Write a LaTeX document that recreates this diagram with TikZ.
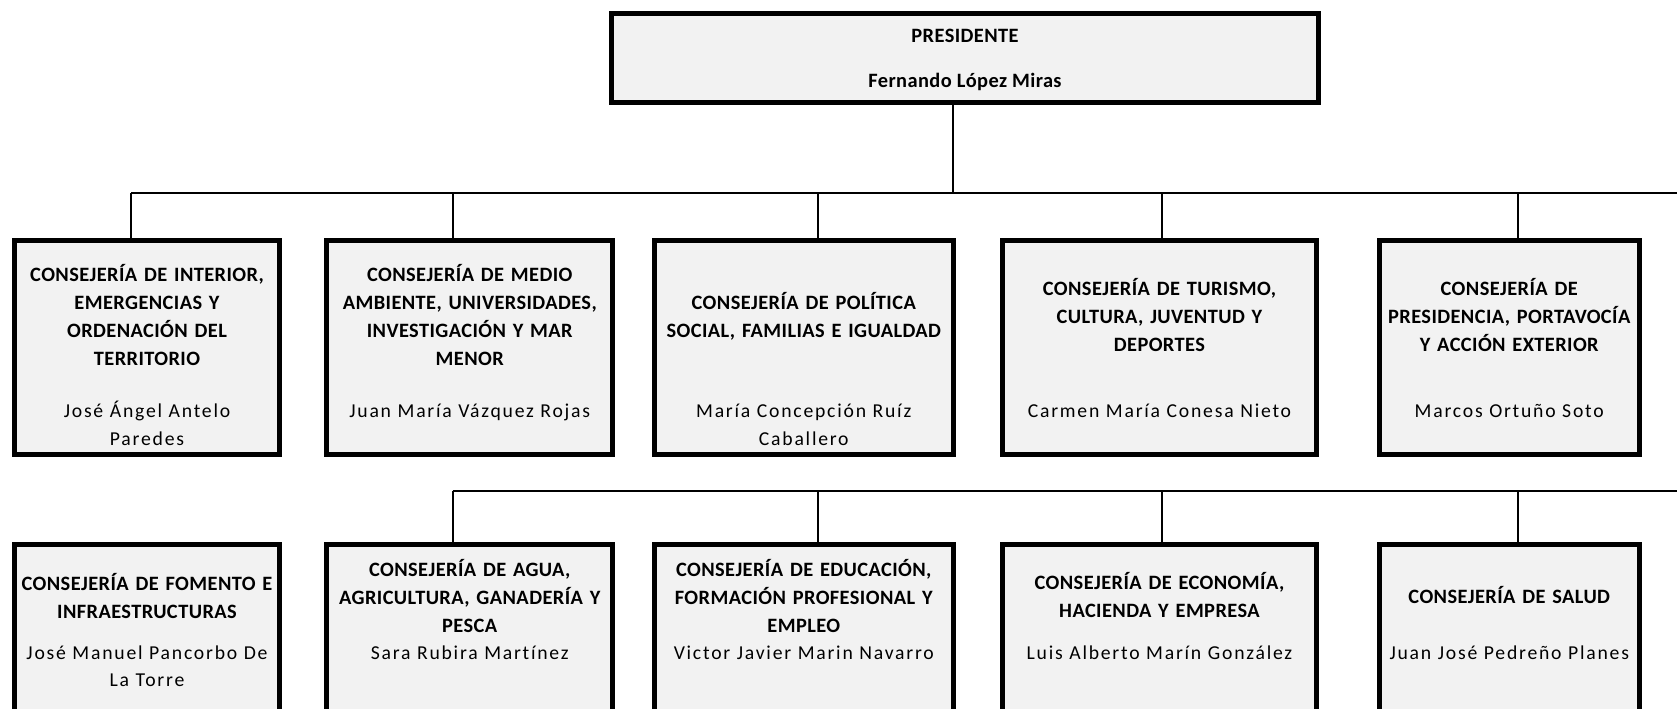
\documentclass[tikz,border=0pt]{standalone}
\usepackage{fontspec}
\setmainfont{Carlito}
\newfontfamily\namefont[LetterSpace=9,Ligatures=NoCommon]{Carlito}
\newfontfamily\ttlfont[LetterSpace=2,Ligatures=NoCommon]{Carlito}
\definecolor{boxgray}{HTML}{F2F2F2}
\begin{document}
\begin{tikzpicture}[x=0.01cm,y=-0.01cm,
  box/.style={draw=black, line width=0.05cm, fill=boxgray, rectangle, inner sep=0pt, outer sep=0pt},
  conn/.style={draw=black, line width=0.02cm},
  ttl/.style={font=\ttlfont\bfseries\fontsize{5.8pt}{7.97pt}\selectfont, align=center, text width=4cm, anchor=base, inner sep=0pt},
  nm/.style={font=\namefont\fontsize{5.6pt}{7.88pt}\selectfont, align=center, text width=4cm, anchor=base, inner sep=0pt},
  pt/.style={font=\ttlfont\bfseries\fontsize{5.8pt}{7pt}\selectfont, anchor=base, inner sep=0pt}]
\useasboundingbox (0,0) rectangle (1677,708);
\clip (0,0) rectangle (1677,708);

% president
\node[box, minimum width=7.07cm, minimum height=0.89cm] (pres) at (965,58) {};
\node[pt] (prest) at (965,42.7) {PRESIDENTE};
\node[pt] (presn) at (965,87.3) {Fernando López Miras};

% row 1 boxes
\node[box, minimum width=2.644cm, minimum height=2.132cm] (a1) at (147,347.4) {};
\node[box, minimum width=2.855cm, minimum height=2.132cm] (b1) at (469.75,347.4) {};
\node[box, minimum width=2.991cm, minimum height=2.132cm] (c1) at (803.75,347.4) {};
\node[box, minimum width=3.131cm, minimum height=2.132cm] (d1) at (1159.45,347.4) {};
\node[box, minimum width=2.599cm, minimum height=2.132cm] (e1) at (1509.25,347.4) {};

% row 2 boxes
\node[box, minimum width=2.644cm, minimum height=2.325cm] (a2) at (147,661.25) {};
\node[box, minimum width=2.855cm, minimum height=2.325cm] (b2) at (469.75,661.25) {};
\node[box, minimum width=2.991cm, minimum height=2.325cm] (c2) at (803.75,661.25) {};
\node[box, minimum width=3.131cm, minimum height=2.325cm] (d2) at (1159.45,661.25) {};
\node[box, minimum width=2.599cm, minimum height=2.325cm] (e2) at (1509.25,661.25) {};

% row 1 texts
\node[ttl] (a1t) at (147,281.7) {CONSEJERÍA DE INTERIOR,\\EMERGENCIAS Y\\ORDENACIÓN DEL\\TERRITORIO};
\node[nm] (a1n) at (147,417.3) {José Ángel Antelo\\Paredes};
\node[ttl] (b1t) at (469.75,281.7) {CONSEJERÍA DE MEDIO\\AMBIENTE, UNIVERSIDADES,\\INVESTIGACIÓN Y MAR\\MENOR};
\node[nm] (b1n) at (469.75,417.3) {Juan María Vázquez Rojas};
\node[ttl] (c1t) at (803.75,309.5) {CONSEJERÍA DE POLÍTICA\\SOCIAL, FAMILIAS E IGUALDAD};
\node[nm] (c1n) at (803.75,417.3) {María Concepción Ruíz\\Caballero};
\node[ttl] (d1t) at (1159.45,295) {CONSEJERÍA DE TURISMO,\\CULTURA, JUVENTUD Y\\DEPORTES};
\node[nm] (d1n) at (1159.45,417.3) {Carmen María Conesa Nieto};
\node[ttl] (e1t) at (1509.25,295) {CONSEJERÍA DE\\PRESIDENCIA, PORTAVOCÍA\\Y ACCIÓN EXTERIOR};
\node[nm] (e1n) at (1509.25,417.3) {Marcos Ortuño Soto};

% row 2 texts
\node[ttl] (a2t) at (147,590.7) {CONSEJERÍA DE FOMENTO E\\INFRAESTRUCTURAS};
\node[nm] (a2n) at (147,659) {José Manuel Pancorbo De\\La Torre};
\node[ttl] (b2t) at (469.75,576.7) {CONSEJERÍA DE AGUA,\\AGRICULTURA, GANADERÍA Y\\PESCA};
\node[nm] (b2n) at (469.75,659) {Sara Rubira Martínez};
\node[ttl] (c2t) at (803.75,576.3) {CONSEJERÍA DE EDUCACIÓN,\\FORMACIÓN PROFESIONAL Y\\EMPLEO};
\node[nm] (c2n) at (803.75,659) {Victor Javier Marin Navarro};
\node[ttl] (d2t) at (1159.45,589.3) {CONSEJERÍA DE ECONOMÍA,\\HACIENDA Y EMPRESA};
\node[nm] (d2n) at (1159.45,659) {Luis Alberto Marín González};
\node[ttl] (e2t) at (1509.25,603.3) {CONSEJERÍA DE SALUD};
\node[nm] (e2n) at (1509.25,659) {Juan José Pedreño Planes};

% connectors row 1
\coordinate (j0) at (953,192.7);
\coordinate (ja) at (131.3,192.7);
\coordinate (jb) at (452.7,192.7);
\coordinate (jc) at (818.2,192.7);
\coordinate (jd) at (1161.7,192.7);
\coordinate (je) at (1517.6,192.7);
\coordinate (jend) at (1690,192.7);
\draw[conn] (pres.south -| j0) -- (j0);
\draw[conn] (ja) -- (jend);
\draw[conn] (ja) -- (ja |- a1.north);
\draw[conn] (jb) -- (jb |- b1.north);
\draw[conn] (jc) -- (jc |- c1.north);
\draw[conn] (jd) -- (jd |- d1.north);
\draw[conn] (je) -- (je |- e1.north);

% connectors row 2
\coordinate (kb) at (452.7,491);
\coordinate (kc) at (818.2,491);
\coordinate (kd) at (1161.7,491);
\coordinate (ke) at (1517.6,491);
\coordinate (kend) at (1690,491);
\draw[conn] (kb) -- (kend);
\draw[conn] (kb) -- (kb |- b2.north);
\draw[conn] (kc) -- (kc |- c2.north);
\draw[conn] (kd) -- (kd |- d2.north);
\draw[conn] (ke) -- (ke |- e2.north);
\end{tikzpicture}
\end{document}
